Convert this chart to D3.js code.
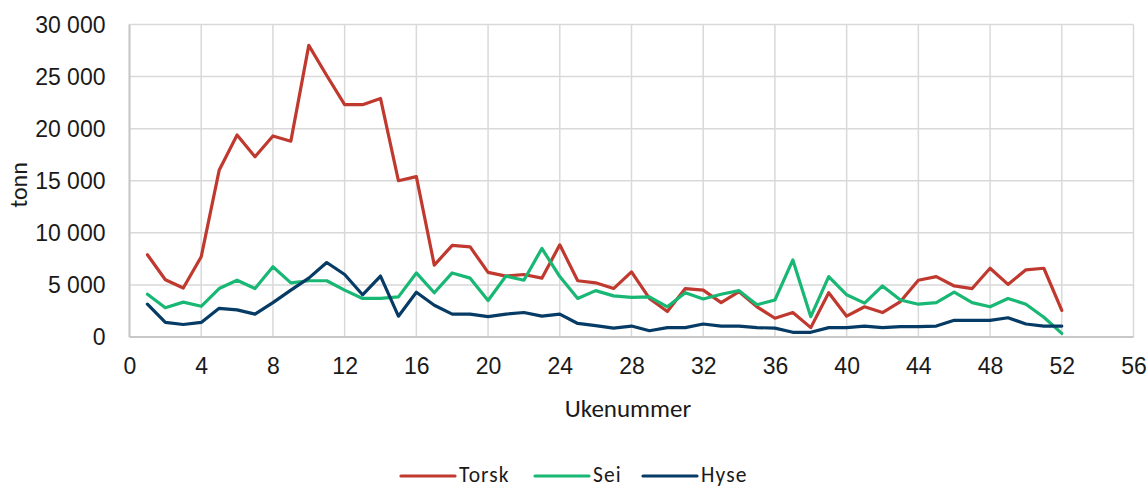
<!DOCTYPE html>
<html>
<head>
<meta charset="utf-8">
<script src="https://cdn.jsdelivr.net/npm/d3@7"></script>
<style>
  html, body { margin: 0; padding: 0; background: #fff; }
  svg { display: block; font-family: Carlito, "Open Sans", "Liberation Sans", sans-serif; }
</style>
</head>
<body>
<svg id="chart" width="1147" height="487"></svg>
<script>
// Weekly landings (tonnes) by species
const weeks = d3.range(1, 53);
const torsk = [7900, 5500, 4700, 7700, 16000, 19400, 17300, 19300, 18800, 28000,
  25100, 22300, 22300, 22900, 15000, 15400, 6900, 8800, 8650, 6200,
  5850, 6000, 5650, 8850, 5400, 5200, 4650, 6250, 3700, 2450,
  4650, 4500, 3300, 4350, 2900, 1800, 2350, 900, 4250, 2000,
  2900, 2350, 3400, 5450, 5800, 4900, 4650, 6600, 5050, 6450,
  6600, 2550];
const sei = [4100, 2800, 3350, 2950, 4650, 5450, 4650, 6750, 5200, 5400,
  5400, 4500, 3700, 3700, 3850, 6150, 4250, 6150, 5650, 3500,
  5850, 5450, 8500, 5800, 3700, 4450, 3950, 3800, 3850, 2900,
  4250, 3650, 4100, 4450, 3100, 3550, 7400, 1950, 5800, 4050,
  3250, 4900, 3550, 3150, 3300, 4300, 3300, 2900, 3700, 3150,
  1900, 350];
const hyse = [3150, 1400, 1200, 1400, 2750, 2600, 2200, 3300, 4500, 5650,
  7150, 6000, 4050, 5850, 2000, 4300, 3050, 2200, 2200, 1950,
  2200, 2350, 2000, 2200, 1300, 1100, 850, 1050, 600, 900,
  900, 1250, 1050, 1050, 900, 850, 450, 450, 900, 900,
  1050, 900, 1000, 1000, 1050, 1600, 1600, 1600, 1850, 1250,
  1050, 1050];
const seriesNames = ["Torsk", "Sei", "Hyse"];
const seriesColors = ["#c0392f", "#18b874", "#063b65"];
const xTicks = d3.range(0, 57, 4);
const yTicks = [0, 5000, 10000, 15000, 20000, 25000, 30000];

const svg = d3.select("#chart");

const x = d3.scaleLinear().domain([0, 56]).range([129.5, 1133.5]);
const y = d3.scaleLinear().domain([0, 30000]).range([337, 24.5]);

const fmt = v => d3.format(",")(v).replace(/,/g, " ");

// Gridlines
const grid = svg.append("g").attr("stroke", "#d9d9d9").attr("stroke-width", 1.5);
grid.selectAll("line.h").data(yTicks).join("line")
  .attr("x1", x(0)).attr("x2", x(56))
  .attr("y1", d => y(d)).attr("y2", d => y(d));
grid.selectAll("line.v").data(xTicks).join("line")
  .attr("y1", y(0)).attr("y2", y(30000))
  .attr("x1", d => x(d)).attr("x2", d => x(d));

// Axes (labels only)
const yAxis = svg.append("g")
  .attr("transform", `translate(${x(0) - 21},0)`)
  .call(d3.axisLeft(y).tickValues(yTicks).tickFormat(fmt).tickSize(0));
yAxis.select(".domain").remove();
yAxis.selectAll("text").attr("font-size", 23).attr("fill", "#1a1a1a").attr("dy", "0.33em");

const xAxis = svg.append("g")
  .attr("transform", `translate(0,${y(0) + 18})`)
  .call(d3.axisBottom(x).tickValues(xTicks).tickFormat(d3.format("d")).tickSize(0));
xAxis.select(".domain").remove();
xAxis.selectAll("text").attr("font-size", 23).attr("fill", "#1a1a1a");

// Axis lines
svg.append("line").attr("x1", x(0)).attr("x2", x(56)).attr("y1", y(0)).attr("y2", y(0))
  .attr("stroke", "#c8c8c8").attr("stroke-width", 2);
svg.append("line").attr("x1", x(0)).attr("x2", x(0)).attr("y1", y(0)).attr("y2", y(30000))
  .attr("stroke", "#c8c8c8").attr("stroke-width", 2);

// Axis titles
svg.append("text").attr("x", 628).attr("y", 417).attr("text-anchor", "middle")
  .attr("font-size", 25).attr("fill", "#1a1a1a").text("Ukenummer");
svg.append("text").attr("transform", "translate(27,185) rotate(-90)")
  .attr("text-anchor", "middle").attr("font-size", 24).attr("fill", "#1a1a1a").text("tonn");

// Series lines
const data = [torsk, sei, hyse];
const line = d3.line().x((d, i) => x(weeks[i])).y(d => y(d));
svg.append("g").selectAll("path").data(data).join("path")
  .attr("d", line)
  .attr("fill", "none")
  .attr("stroke", (d, i) => seriesColors[i])
  .attr("stroke-width", 3.2)
  .attr("stroke-linejoin", "round")
  .attr("stroke-linecap", "round");

// Legend
const legendX = [400, 534, 642];
const lg = svg.append("g").selectAll("g").data(seriesNames).join("g")
  .attr("transform", (d, i) => `translate(${legendX[i]},476)`);
lg.append("line").attr("x1", 1).attr("x2", 55).attr("y1", 0).attr("y2", 0)
  .attr("stroke", (d, i) => seriesColors[i]).attr("stroke-width", 3.2).attr("stroke-linecap", "round");
lg.append("text").attr("x", 59).attr("y", 5.5)
  .attr("font-size", 21.5).attr("fill", "#1a1a1a").attr("letter-spacing", 1.1).text(d => d);
</script>
</body>
</html>
